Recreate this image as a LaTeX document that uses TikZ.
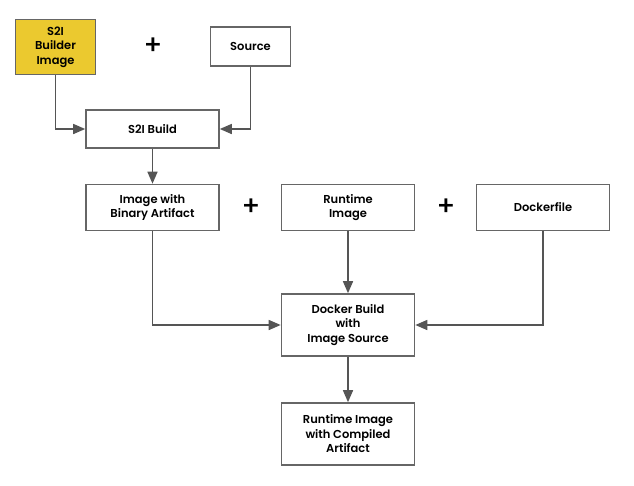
\documentclass[tikz,border=0pt]{standalone}
\usepackage{fontspec}
\setmainfont{Poppins}[UprightFont=* Medium, BoldFont=* SemiBold]
\usetikzlibrary{arrows.meta}

\definecolor{builderyellow}{HTML}{EBC92F}
\definecolor{linegray}{HTML}{555555}
\definecolor{boxgray}{HTML}{666666}

\tikzset{
	box/.style={draw=boxgray, line width=1.6pt, rectangle, align=center,
		inner sep=0pt, font=\fontsize{11.5}{14.5}\selectfont\bfseries},
	flow/.style={draw=linegray, line width=1.5pt,
		-{Triangle[length=12pt,width=10pt]}},
	plus/.style={font=\fontsize{27}{27}\selectfont}
}

\begin{document}
\begin{tikzpicture}[x=1pt, y=-1pt]
	\useasboundingbox
		(0,0) rectangle (634,485);

	\node
		[box, fill=builderyellow, minimum width=80pt, minimum height=55pt]
		(builder) at (55.5,47) {S2I\\Builder\\Image};
	\node
		[box, minimum width=80pt, minimum height=39pt]
		(source) at (250.5,46.5) {Source};
	\node
		[box, minimum width=133pt, minimum height=38pt]
		(s2ibuild) at (152.5,129) {S2I Build};

	\node
		[box, minimum width=133pt, minimum height=46pt]
		(binary) at (152.5,207.5) {Image with\\Binary Artifact};
	\node
		[box, minimum width=133pt, minimum height=46pt]
		(runtime) at (348,207.5) {Runtime\\Image};
	\node
		[box, minimum width=133pt, minimum height=46pt]
		(dockerfile) at (543,207.5) {Dockerfile};

	\node
		[box, minimum width=133pt, minimum height=62pt]
		(dockerbuild) at (348,325) {Docker Build\\with\\Image Source};
	\node
		[box, minimum width=133pt, minimum height=62pt]
		(compiled) at (348,434) {Runtime Image\\with Compiled\\Artifact};

	\node [plus] (plusa) at (153,46) {+};
	\node [plus] (plusb) at (251,207) {+};
	\node [plus] (plusc) at (446,207) {+};

	\draw
		[flow] (builder.south) |- (s2ibuild.west);
	\draw
		[flow] (source.south) |- (s2ibuild.east);
	\draw
		[flow] (s2ibuild) -- (binary);

	\draw
		[flow] (binary.south) |- (dockerbuild.west);
	\draw
		[flow] (runtime) -- (dockerbuild);
	\draw
		[flow] (dockerfile.south) |- (dockerbuild.east);

	\draw
		[flow] (dockerbuild) -- (compiled);
\end{tikzpicture}
\end{document}
